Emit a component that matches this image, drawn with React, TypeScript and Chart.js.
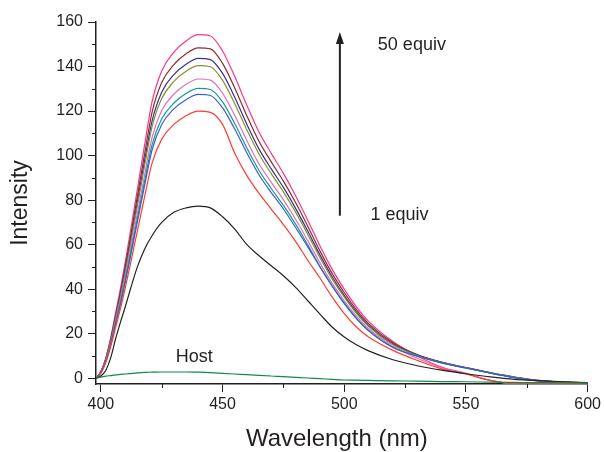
import React, { useEffect, useRef } from "react";
import { Chart, registerables } from "chart.js";

Chart.register(...registerables);

const WAVELENGTHS = [398, 400, 402, 404, 406, 408, 410, 412, 415, 418, 421, 425, 430, 435, 440, 445, 450, 455, 460, 465, 470, 475, 480, 485, 490, 495, 500, 505, 510, 520, 530, 540, 550, 560, 570, 580, 590, 600];

const HOST = [0, 0.5, 0.9, 1.2, 1.5, 1.7, 1.9, 2.1, 2.4, 2.6, 2.7, 2.8, 2.8, 2.8, 2.7, 2.5, 2.2, 1.9, 1.6, 1.3, 1.0, 0.7, 0.4, 0.1, -0.2, -0.5, -0.8, -0.9, -1.0, -1.2, -1.3, -1.5, -1.6, -1.8, -1.9, -2, -2, -2.1];
const EQ_1 = [0, 1, 3.5, 9, 17.5, 25, 32, 39.5, 50, 58, 64, 70, 74.5, 76.5, 77.3, 76.5, 72.5, 67, 60, 55, 50.5, 46, 40.8, 34.8, 28.8, 23, 18.5, 15, 12.3, 8.3, 5.6, 3.6, 2, 0.6, -0.5, -1.1, -1.6, -2];
const RED = [0, 2.3, 7, 14, 22.6, 31.1, 40.5, 50.6, 66.1, 81.7, 96.5, 107.4, 114, 117.9, 120, 119.4, 114, 101, 91, 83, 76, 69, 61.5, 53, 45, 36.5, 29, 23, 18.5, 12.5, 8, 4.2, 1.9, -1, -2.5, -2.5, -2.5, -2];
const BLUE = [0, 2.5, 7.4, 14.9, 24, 33, 43, 53.7, 70.2, 86.7, 102.4, 114, 121, 125.1, 127.5, 127, 121.4, 111.9, 101.2, 91.3, 83.4, 76, 67.7, 59, 50, 41.5, 33.5, 26.8, 21.3, 13.8, 9.9, 6.9, 4.6, 2.3, 0.3, -1.2, -1.9, -2];
const TEAL = [0, 2.5, 7.6, 15.2, 24.5, 33.8, 43.9, 54.9, 71.7, 88.6, 104.7, 116.5, 123.6, 127.9, 130.2, 129.7, 124.1, 114.4, 103.4, 93.3, 85.2, 77.6, 69.2, 59.9, 50.2, 41.4, 33.8, 27, 21.5, 13.9, 10, 6.9, 4.6, 2.3, 0.3, -1.2, -1.9, -2];
const ORCHID = [0, 2.6, 7.8, 15.7, 25.3, 34.8, 45.3, 56.6, 74, 91.5, 108, 120.2, 127.6, 132, 134.4, 133.9, 128, 118, 106.7, 96.2, 88, 80.1, 71.4, 61.8, 51.8, 42.7, 34.8, 27.9, 22.2, 14.4, 9, 4.7, 2.1, -1, -2.5, -2.5, -2.5, -2];
const OLIVE = [0, 2.7, 8.2, 16.4, 26.4, 36.4, 47.3, 59.2, 77.4, 95.6, 112.8, 125.6, 133.3, 137.9, 140.4, 139.9, 133.8, 123.3, 111.5, 100.6, 91.9, 83.7, 74.6, 64.6, 54.1, 44.6, 36.4, 29.1, 23.2, 15, 10.2, 7, 4.6, 2.4, 0.4, -1.1, -1.8, -2];
const NAVY = [0, 2.8, 8.4, 16.8, 27, 37.2, 48.4, 60.5, 79.1, 97.8, 115.4, 128.5, 136.4, 141, 143.7, 143.1, 136.9, 126.2, 114, 102.9, 94, 85.7, 76.3, 66.1, 55.4, 45.6, 37.2, 29.8, 23.7, 15.4, 10.4, 7.1, 4.7, 2.4, 0.4, -1.1, -1.8, -2];
const BROWN = [0, 2.9, 8.7, 17.3, 27.9, 38.5, 50, 62.5, 81.8, 101, 119.3, 132.8, 140.9, 145.7, 148.4, 147.9, 141.4, 130.4, 117.8, 106.3, 97.2, 88.5, 78.9, 68.3, 57.2, 47.1, 38.5, 30.8, 24.5, 15.9, 10.6, 7.2, 4.8, 2.5, 0.5, -1, -1.8, -2];
const EQ_50 = [0, 3, 9, 18, 29, 40, 52, 65, 85, 105, 124, 138, 146.5, 151.5, 154.3, 153.7, 147, 135.5, 122.5, 110.5, 101, 92, 82, 71, 59.5, 49, 40, 32, 25.5, 16.5, 10, 5, 2.2, -1, -2.5, -2.5, -2.5, -2];

const SERIES = [
  { name: "Host", values: HOST, color: "#108a4a" },
  { name: "1 equiv", values: EQ_1, color: "#222222" },
  { name: "red", values: RED, color: "#ff3b30" },
  { name: "blue", values: BLUE, color: "#3a5fcd" },
  { name: "teal", values: TEAL, color: "#139a94" },
  { name: "orchid", values: ORCHID, color: "#e070b8" },
  { name: "olive", values: OLIVE, color: "#8c8c33" },
  { name: "navy", values: NAVY, color: "#333388" },
  { name: "brown", values: BROWN, color: "#8b2d2d" },
  { name: "50 equiv", values: EQ_50, color: "#ff3388" },
];

const X_MAJOR = [400, 450, 500, 550, 600];
const X_MINOR = [425, 475, 525, 575];
const Y_MAJOR = [0, 20, 40, 60, 80, 100, 120, 140, 160];
const Y_MINOR = [10, 30, 50, 70, 90, 110, 130, 150];

const X_TITLE = "Wavelength (nm)";
const Y_TITLE = "Intensity";

// annotations in data space
const ARROW = { x: 498.2, from: 73, to: 155.5 };
const LABELS = [
  { text: "50 equiv", x: 513.8, y: 149.7 },
  { text: "1 equiv", x: 510.8, y: 73.3 },
  { text: "Host", x: 430.8, y: 9.4 },
];

const INK = "#231f20";
const FONT = "Arial, 'Liberation Sans', sans-serif";

export default function App() {
  const ref = useRef<HTMLCanvasElement | null>(null);
  useEffect(() => {
    if (!ref.current) return;
    const extras = {
      id: "extras",
      afterDraw(chart: any) {
        const { ctx, scales, chartArea } = chart;
        const xs = scales.x;
        const ys = scales.y;
        ctx.save();
        ctx.strokeStyle = INK;
        ctx.lineWidth = 1;
        X_MINOR.forEach((v) => {
          const px = Math.round(xs.getPixelForValue(v)) + 0.5;
          ctx.beginPath();
          ctx.moveTo(px, chartArea.bottom);
          ctx.lineTo(px, chartArea.bottom + 4);
          ctx.stroke();
        });
        Y_MINOR.forEach((v) => {
          const py = Math.round(ys.getPixelForValue(v)) + 0.5;
          ctx.beginPath();
          ctx.moveTo(chartArea.left - 4, py);
          ctx.lineTo(chartArea.left, py);
          ctx.stroke();
        });
        // arrow
        const ax = xs.getPixelForValue(ARROW.x);
        const yb = ys.getPixelForValue(ARROW.from);
        const yt = ys.getPixelForValue(ARROW.to);
        ctx.fillStyle = INK;
        ctx.lineWidth = 2;
        ctx.beginPath();
        ctx.moveTo(ax, yb);
        ctx.lineTo(ax, yt + 10);
        ctx.stroke();
        ctx.beginPath();
        ctx.moveTo(ax, yt);
        ctx.lineTo(ax - 4, yt + 12);
        ctx.lineTo(ax + 4, yt + 12);
        ctx.closePath();
        ctx.fill();
        // labels
        ctx.font = `18px ${FONT}`;
        ctx.textBaseline = "middle";
        ctx.textAlign = "left";
        LABELS.forEach((l) => {
          ctx.fillText(l.text, xs.getPixelForValue(l.x), ys.getPixelForValue(l.y));
        });
        // axis titles
        ctx.font = `24px ${FONT}`;
        ctx.textAlign = "center";
        ctx.fillText(X_TITLE, (chartArea.left + chartArea.right) / 2 - 5, chart.height - 13);
        ctx.translate(21, (chartArea.top + chartArea.bottom) / 2);
        ctx.rotate(-Math.PI / 2);
        ctx.font = `23px ${FONT}`;
        ctx.fillText(Y_TITLE, 0, 0);
        ctx.restore();
      },
    };
    const chart = new Chart(ref.current, {
      type: "line",
      data: {
        datasets: SERIES.map((s) => ({
          label: s.name,
          data: WAVELENGTHS.map((w, i) => ({ x: w, y: s.values[i] })),
          borderColor: s.color,
          backgroundColor: s.color,
          borderWidth: 1.2,
          pointRadius: 0,
          fill: false,
          cubicInterpolationMode: "monotone" as const,
        })),
      },
      options: {
        animation: false,
        responsive: false,
        maintainAspectRatio: false,
        layout: { padding: { top: 22, right: 16, left: 0, bottom: 0 } },
        plugins: { legend: { display: false }, tooltip: { enabled: false } },
        scales: {
          x: {
            type: "linear",
            min: 398,
            max: 600,
            afterBuildTicks: (axis: any) => {
              axis.ticks = X_MAJOR.map((v) => ({ value: v }));
            },
            afterFit: (axis: any) => {
              axis.height = 68;
            },
            ticks: {
              autoSkip: false,
              maxRotation: 0,
              padding: 3,
              color: INK,
              font: { family: FONT, size: 16 },
              callback: (v: any) => String(v),
            },
            grid: { display: true, drawOnChartArea: false, drawTicks: true, tickLength: 8, color: INK, lineWidth: 1 },
            border: { display: true, color: INK, width: 1.5 },
            title: { display: false },
          },
          y: {
            type: "linear",
            min: -2.6,
            max: 160,
            afterBuildTicks: (axis: any) => {
              axis.ticks = Y_MAJOR.map((v) => ({ value: v }));
            },
            afterFit: (axis: any) => {
              axis.width = 96;
            },
            ticks: {
              autoSkip: false,
              padding: 5,
              color: INK,
              font: { family: FONT, size: 16 },
              callback: (v: any) => String(v),
            },
            grid: { display: true, drawOnChartArea: false, drawTicks: true, tickLength: 8, color: INK, lineWidth: 1 },
            border: { display: true, color: INK, width: 1.5 },
            title: { display: false },
          },
        },
      },
      plugins: [extras],
    });
    return () => chart.destroy();
  }, []);
  return (
    <div style={{ position: "fixed", left: 0, top: 0, width: 604, height: 452, background: "#fff" }}>
      <canvas ref={ref} width={604} height={452} style={{ display: "block" }} />
    </div>
  );
}
